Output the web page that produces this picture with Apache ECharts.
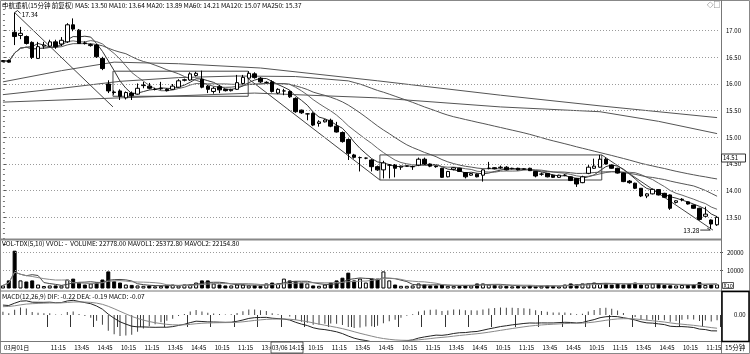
<!DOCTYPE html>
<html><head><meta charset="utf-8">
<script src="https://cdn.jsdelivr.net/npm/echarts@6/dist/echarts.min.js"></script>
<style>html,body{margin:0;padding:0;background:#fff}#c{width:750px;height:354px}</style>
</head><body><div id="c"></div>
<script>
// ---------- categories ----------
const sessionTimes = ['09:45','10:00','10:15','10:30','10:45','11:00','11:15','11:30','13:15','13:30','13:45','14:00','14:15','14:30','14:45','15:00'];
const dayNames = ['02/28','03/01','03/02','03/03','03/06','03/07','03/08','03/09','03/10'];
const dayFirstBar = [14,0,0,0,0,0,0,0,0];
const dayBarCount = [2,16,16,16,16,16,16,16,9];
const shownTimes = ['10:15','11:15','13:45','14:45'];
const firstDateLabel = '03月01日';

// ---------- price data (per 15-min bar) ----------
const open = [16.42,16.44,16.97,16.91,16.89,16.78,16.48,16.71,16.71,16.79,16.75,16.79,17.11,17.01,16.77,16.72,16.73,16.48,
16.00,15.85,15.87,15.74,15.83,15.81,15.97,15.96,15.90,15.91,15.90,15.90,15.94,16.07,16.075,16.16,
16.09,15.96,15.86,15.95,15.90,15.875,15.90,16.01,16.11,16.19,16.11,16.03,16.04,15.83,15.87,15.86,
15.73,15.51,15.44,15.45,15.26,15.29,15.32,15.21,15.09,14.96,14.67,14.62,14.61,14.575,14.45,14.39,
14.48,14.48,14.44,14.46,14.45,14.48,14.59,14.50,14.46,14.42,14.26,14.40,14.42,14.34,14.29,14.31,
14.29,14.42,14.43,14.43,14.44,14.41,14.42,14.40,14.42,14.36,14.31,14.325,14.29,14.25,14.29,14.26,
14.23,14.15,14.325,14.42,14.44,14.59,14.48,14.42,14.33,14.18,14.14,14.045,13.90,13.94,14.02,13.95,
13.92,13.78,13.83,13.79,13.73,13.67,13.52,13.45,13.36];
const close = [16.44,16.41,16.89,16.95,16.76,16.50,16.70,16.73,16.79,16.70,16.82,17.11,17.03,16.76,16.76,16.74,16.51,16.29,
15.87,15.84,15.77,15.84,15.78,15.92,15.98,15.92,15.90,15.92,15.875,15.96,16.06,16.08,16.19,16.20,
15.94,15.90,15.92,15.89,15.875,15.90,16.025,16.125,16.20,16.12,16.04,16.03,15.86,15.90,15.87,15.76,
15.48,15.46,15.44,15.23,15.29,15.325,15.21,15.10,14.92,14.70,14.625,14.62,14.61,14.45,14.39,14.52,
14.48,14.42,14.46,14.46,14.45,14.59,14.50,14.46,14.45,14.25,14.36,14.43,14.36,14.26,14.32,14.26,
14.39,14.42,14.41,14.44,14.39,14.42,14.39,14.41,14.375,14.275,14.31,14.26,14.25,14.29,14.29,14.19,
14.125,14.26,14.44,14.46,14.59,14.50,14.42,14.33,14.17,14.15,14.045,13.90,13.94,14.025,13.92,13.875,
13.67,13.81,13.84,13.75,13.67,13.46,13.56,13.375,13.50];
const low = [16.41,16.40,16.73,16.84,16.74,16.47,16.47,16.66,16.69,16.66,16.71,16.77,16.99,16.75,16.74,16.70,16.49,16.26,
15.83,15.80,15.70,15.71,15.70,15.80,15.92,15.90,15.88,15.89,15.86,15.89,15.93,16.05,16.06,16.14,
15.92,15.83,15.82,15.83,15.86,15.86,15.89,15.99,16.09,16.10,16.02,16.01,15.84,15.81,15.79,15.74,
15.46,15.44,15.32,15.21,15.20,15.28,15.19,15.09,14.90,14.575,14.60,14.36,14.59,14.36,14.37,14.23,
14.23,14.25,14.39,14.45,14.39,14.46,14.48,14.44,14.43,14.24,14.25,14.38,14.35,14.23,14.28,14.25,
14.17,14.40,14.40,14.41,14.38,14.40,14.38,14.39,14.37,14.25,14.28,14.25,14.24,14.24,14.27,14.18,
14.07,14.14,14.31,14.41,14.43,14.49,14.41,14.32,14.16,14.13,14.03,13.88,13.86,13.93,13.91,13.86,
13.64,13.76,13.80,13.74,13.66,13.44,13.50,13.28,13.34];
const high = [16.45,16.46,17.34,17.07,16.91,16.80,16.79,16.79,16.83,16.83,16.88,17.14,17.23,17.03,16.80,16.76,16.75,16.51,
16.07,15.88,15.90,15.86,15.86,16.01,16.04,16.02,15.93,16.04,15.92,16.00,16.09,16.10,16.22,16.23,
16.25,15.98,15.95,15.98,15.91,15.91,16.17,16.17,16.24,16.22,16.13,16.05,16.07,15.92,15.91,15.88,
15.75,15.52,15.45,15.47,15.32,15.34,15.35,15.29,15.11,14.98,14.69,14.64,14.62,14.59,14.47,14.56,
14.50,14.50,14.47,14.47,14.47,14.62,14.62,14.51,14.47,14.43,14.37,14.44,14.43,14.35,14.33,14.32,
14.40,14.54,14.44,14.47,14.46,14.43,14.43,14.42,14.43,14.37,14.34,14.33,14.30,14.30,14.31,14.27,
14.24,14.28,14.48,14.60,14.67,14.62,14.49,14.43,14.34,14.20,14.15,14.05,13.95,14.04,14.03,13.96,
13.93,13.82,13.86,13.80,13.74,13.68,13.70,13.46,13.52];
const volume = [17000,45000,210000,45000,39000,45000,22000,14000,17000,17000,17000,50000,55000,33000,22000,28000,33000,50000,
95000,40000,33000,22000,20000,17000,15000,17000,12000,15000,17000,22000,17000,22000,22000,33000,
45000,45000,28000,22000,17000,17000,22000,22000,17000,17000,15000,28000,33000,28000,55000,45000,
40000,33000,28000,17000,15000,22000,33000,45000,60000,88000,45000,55000,33000,55000,55000,95000,
45000,22000,15000,15000,17000,28000,22000,17000,17000,22000,15000,15000,15000,17000,17000,28000,
28000,22000,20000,17000,15000,12000,14000,11000,17000,11000,15000,17000,14000,12000,22000,28000,
22000,28000,28000,33000,28000,28000,22000,28000,22000,26000,33000,22000,22000,28000,28000,20000,
18000,17000,19684,20000,24000,35000,20000,25086,22778];

// slow moving averages (history before the window is not visible)
const ma60Early = [[0,15.80],[10,15.92],[20,16.05],[30,16.12],[40,16.15],[50,16.14]];
const ma120Pts = [[0,15.66],[20,15.74],[43,15.83],[64,15.74],[85,15.57],[102,15.48],[112,15.30],[122,15.07]];
const ma250Pts = [[0,16.04],[10,16.25],[19,16.41],[30,16.38],[44,16.30],[64,16.06],[85,15.79],[102,15.59],[122,15.37]];

// user-drawn annotation lines (bar index, price)
const annoDiag1 = [[2,17.34],[18.8,15.57]];
const annoRect1 = [[18.8,16.24],[41.9,16.24],[41.9,15.77],[18.8,15.77],[18.8,16.24]];
const annoDiag2 = [[41.9,16.10],[64.4,14.20]];
const annoRect2 = [[64.4,14.67],[102.3,14.67],[102.3,14.20],[64.4,14.20],[64.4,14.67]];
const annoDiag3 = [[102.3,14.67],[121.3,13.26]];

const priceTicks = [13.5,14.0,14.5,15.0,15.5,16.0,16.5,17.0];
const volTicks = [100000,200000];
const maxMark = {idx:2, price:17.34, text:'17.34'};
const minMark = {idx:121, price:13.28, text:'13.28'};

const mainTitle = '中航重机(15分钟 前复权) MA5: 13.50 MA10: 13.64 MA20: 13.89 MA60: 14.21 MA120: 15.07 MA250: 15.37';
const volTitle = 'VOL-TDX(5,10) VVOL: -  VOLUME: 22778.00 MAVOL1: 25372.80 MAVOL2: 22154.80';
const macdTitle = 'MACD(12,26,9) DIF: -0.22 DEA: -0.19 MACD: -0.07';

// ---------- derived ----------
const cats = [], axisText = [];
dayNames.forEach((d, di) => {
  for (let t = 0; t < dayBarCount[di]; t++) {
    const tm = sessionTimes[dayFirstBar[di] + t];
    cats.push(d + ' ' + tm);
    axisText.push(shownTimes.includes(tm) ? tm : '');
  }
});
axisText[0] = firstDateLabel;
for (let i = 1; i < 6; i++) axisText[i] = '';
const N = close.length;

function maOf(arr, n, fullOnly) {
  return arr.map((_, i) => {
    if (fullOnly && i < n - 1) return null;
    const s = Math.max(0, i - n + 1); let t = 0;
    for (let k = s; k <= i; k++) t += arr[k];
    return +(t / (i - s + 1)).toFixed(4);
  });
}
const ma5 = maOf(close, 5), ma10 = maOf(close, 10), ma20 = maOf(close, 20);
const ma60Full = maOf(close, 60, true);
const ma60Pts = ma60Early.concat(ma60Full.map((v, i) => [i, v]).filter(p => p[1] != null));
const mavol1 = maOf(volume, 5), mavol2 = maOf(volume, 10);

// MACD(12,26,9), EMA seeds for the hidden history before the window
let e12 = 16.34, e26 = 16.20, dea = 0.11;
const difArr = [], deaArr = [], macdArr = [];
close.forEach(c => {
  e12 = (2 * c + 11 * e12) / 13; e26 = (2 * c + 25 * e26) / 27;
  const d = e12 - e26; dea = (2 * d + 8 * dea) / 10;
  difArr.push(+d.toFixed(4)); deaArr.push(+dea.toFixed(4)); macdArr.push(+(2 * (d - dea)).toFixed(4));
});

const candleData = open.map((o, i) => [o, close[i], low[i], high[i]]);
const volData = volume.map((v, i) => ({
  value: v,
  itemStyle: close[i] >= open[i] ? {color: '#fff', borderColor: '#000', borderWidth: 1} : {color: '#000', borderColor: '#000', borderWidth: 1}
}));

const showLbl = (i) => axisText[i] !== '';
const FONT = '"Noto Sans CJK SC", "Liberation Sans", sans-serif';
const annoStyle = {color: '#444', width: 1};
function lineSeries(name, data, color, xi) {
  return {name, type: 'line', xAxisIndex: xi, yAxisIndex: 0, data, symbol: 'none', silent: true,
    lineStyle: {color, width: 1}, z: 3, animation: false};
}
function annoSeries(data) {
  return {type: 'line', xAxisIndex: 1, yAxisIndex: 0, data, symbol: 'none', silent: true, lineStyle: annoStyle, z: 4};
}

const chart = echarts.init(document.getElementById('c'));
chart.setOption({
  animation: false,
  backgroundColor: '#fff',
  grid: [
    {left: 0, top: 4, width: 720, height: 240},
    {left: 0, top: 243.5, width: 720, height: 45},
    {left: 0, top: 291.96, width: 720, height: 48.96}
  ],
  xAxis: [
    {type: 'category', gridIndex: 0, data: cats, show: false},
    {type: 'value', gridIndex: 0, min: -0.5, max: N - 0.5, show: false},
    {type: 'category', gridIndex: 1, data: cats, show: false},
    {type: 'category', gridIndex: 2, data: cats, position: 'bottom',
      axisLine: {show: false},
      axisTick: {show: true, interval: showLbl, length: 12, lineStyle: {color: '#333'}},
      axisLabel: {interval: showLbl, formatter: (v, i) => axisText[i], align: 'left', fontSize: 6, margin: 4,
        color: '#000', fontFamily: FONT, padding: [0, 0, 0, 1]}}
  ],
  yAxis: [
    {type: 'value', gridIndex: 0, position: 'right', min: 13, max: 17.5, interval: 0.5,
      splitLine: {show: false}, axisLine: {show: false},
      axisTick: {show: true, length: 3, lineStyle: {color: '#555'}},
      minorTick: {show: true, splitNumber: 5, length: 2, lineStyle: {color: '#777'}},
      axisLabel: {showMinLabel: false, showMaxLabel: false, formatter: v => v.toFixed(2), fontSize: 6, margin: 6, color: '#000', fontFamily: FONT}},
    {type: 'value', gridIndex: 1, position: 'right', min: 0, max: 250000, interval: 100000,
      splitLine: {show: false}, axisLine: {show: false},
      axisTick: {show: true, length: 3, lineStyle: {color: '#555'}},
      axisLabel: {showMinLabel: false, showMaxLabel: false, formatter: v => String(v / 10), fontSize: 6, margin: 7, color: '#000', fontFamily: FONT}},
    {type: 'value', gridIndex: 2, position: 'right', min: -0.36, max: 0.32, interval: 0.04,
      splitLine: {show: false}, axisLine: {show: false}, axisTick: {show: false},
      axisLabel: {formatter: v => Math.abs(v) < 1e-9 ? '0.00' : '', fontSize: 6, margin: 14, color: '#000', fontFamily: FONT}}
  ],
  series: [
    {type: 'candlestick', xAxisIndex: 0, yAxisIndex: 0, data: candleData, barWidth: 4, silent: true, z: 5,
      itemStyle: {color: '#fff', color0: '#000', borderColor: '#000', borderColor0: '#000', borderWidth: 1},
      markLine: {silent: true, symbol: 'none', label: {show: false}, animation: false,
        lineStyle: {type: [1, 2], color: '#9a9a9a', width: 1},
        data: priceTicks.map(v => ({yAxis: v}))}},
    lineSeries('MA5', ma5, '#333', 0),
    lineSeries('MA10', ma10, '#666', 0),
    lineSeries('MA20', ma20, '#555', 0),
    lineSeries('MA60', ma60Pts, '#555', 1),
    lineSeries('MA120', ma120Pts, '#555', 1),
    lineSeries('MA250', ma250Pts, '#555', 1),
    annoSeries(annoDiag1), annoSeries(annoRect1), annoSeries(annoDiag2), annoSeries(annoRect2), annoSeries(annoDiag3),
    {type: 'bar', xAxisIndex: 2, yAxisIndex: 1, data: volData, barWidth: 4, silent: true,
      markLine: {silent: true, symbol: 'none', label: {show: false}, animation: false,
        lineStyle: {type: [1, 2], color: '#9a9a9a', width: 1}, data: volTicks.map(v => ({yAxis: v}))}},
    {type: 'line', xAxisIndex: 2, yAxisIndex: 1, data: mavol1, symbol: 'none', silent: true, lineStyle: {color: '#444', width: 1}},
    {type: 'line', xAxisIndex: 2, yAxisIndex: 1, data: mavol2, symbol: 'none', silent: true, lineStyle: {color: '#888', width: 1}},
    {type: 'bar', xAxisIndex: 3, yAxisIndex: 2, data: macdArr, barWidth: 1, silent: true, itemStyle: {color: '#444'}},
    {type: 'line', xAxisIndex: 3, yAxisIndex: 2, data: difArr, symbol: 'none', silent: true, lineStyle: {color: '#222', width: 1}},
    {type: 'line', xAxisIndex: 3, yAxisIndex: 2, data: deaArr, symbol: 'none', silent: true, lineStyle: {color: '#888', width: 1}}
  ]
});

// ---------- frame, labels, markers ----------
const txt = (x, y, s, extra) => Object.assign({type: 'text', x, y, silent: true, z: 50,
  style: {text: s, fontSize: 6.5, fontFamily: FONT, fill: '#000', textVerticalAlign: 'middle'}}, extra || {});
const ln = (x1, y1, x2, y2, color, w) => ({type: 'line', silent: true, z: 40, shape: {x1, y1, x2, y2}, style: {stroke: color, lineWidth: w || 1}});
const rc = (x, y, w, h, stroke, lw, fill) => ({type: 'rect', silent: true, z: 40, shape: {x, y, width: w, height: h}, style: {stroke, lineWidth: lw || 1, fill: fill || 'none'}});

const hiPx = chart.convertToPixel({xAxisIndex: 0, yAxisIndex: 0}, [maxMark.idx, maxMark.price]);
const loPx = chart.convertToPixel({xAxisIndex: 0, yAxisIndex: 0}, [minMark.idx, minMark.price]);

const g = [
  rc(0.5, 0.5, 749, 353, '#888', 1),
  ln(721.5, 0, 721.5, 354, '#777', 1),
  ln(0, 239.5, 721, 239.5, '#888', 2),
  ln(0, 291, 750, 291, '#777', 1),
  ln(0, 341.5, 750, 341.5, '#777', 1),
  rc(722, 291.5, 27, 50, '#000', 1.5),
  rc(722.5, 282.5, 11, 6, '#555', 1, '#fff'),
  Object.assign(txt(723.5, 285.7, 'X10'), {style: {text: 'X10', fontSize: 5.5, fontFamily: FONT, fill: '#000', textVerticalAlign: 'middle'}}),
  txt(2, 5.5, mainTitle),
  txt(2, 243.5, volTitle),
  txt(2, 296.5, macdTitle),
  txt(725, 348, '15分钟'),
  rc(721.5, 154, 24, 8, '#333', 1, '#fff'),
  Object.assign(txt(723, 158.2, '14.51'), {style: {text: '14.51', fontSize: 6, fontFamily: FONT, fill: '#000', textVerticalAlign: 'middle'}}),
  rc(271, 342, 32, 11, '#333', 0.8, '#fff'),
  txt(272, 348, '03/06 14:15', {style: {text: '03/06 14:15', fontSize: 6, fontFamily: FONT, fill: '#000', textVerticalAlign: 'middle'}}),
  txt(707, 5, '◇□', {style: {text: '◇□', fontSize: 6.5, fontFamily: FONT, fill: '#333', textVerticalAlign: 'middle'}}),
  ln(hiPx[0], hiPx[1], hiPx[0] + 3, hiPx[1] - 2, '#333', 1),
  ln(hiPx[0] + 3, hiPx[1] - 2, hiPx[0] + 6, hiPx[1] + 1, '#333', 1),
  txt(hiPx[0] + 7, hiPx[1] + 1.5, maxMark.text),
  ln(loPx[0] - 11, loPx[1] + 1, loPx[0] - 1, loPx[1] + 1, '#333', 1),
  ln(loPx[0] - 4, loPx[1] - 1, loPx[0] - 1, loPx[1] + 1, '#333', 1),
  txt(loPx[0] - 28, loPx[1] + 1, minMark.text)
];
chart.setOption({graphic: g});
</script></body></html>
